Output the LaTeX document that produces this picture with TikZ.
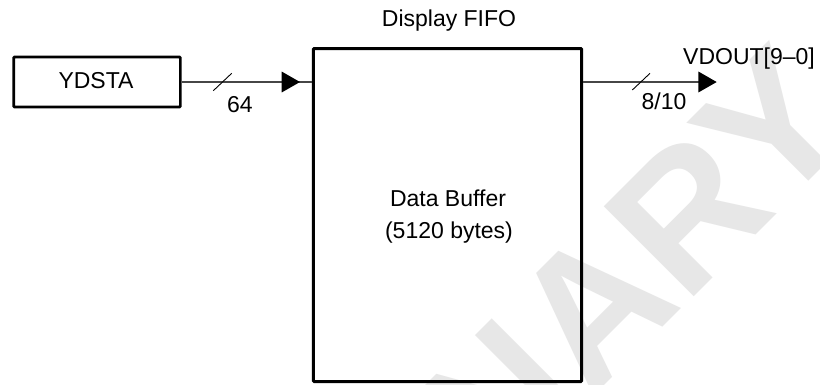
\documentclass[tikz,border=0pt]{standalone}
\usepackage{fontspec}
\setmainfont{Liberation Sans}
\usetikzlibrary{arrows.meta}
\definecolor{wmgray}{RGB}{231,231,231}
\definecolor{wirec}{RGB}{70,70,70}
\begin{document}
\begin{tikzpicture}[x=1pt,y=-1pt,
  lbl/.style={font=\fontsize{23}{28}\selectfont, inner sep=0pt, anchor=base},
  blk/.style={draw=black, line width=2.7pt, inner sep=0pt, rounded corners=1pt},
  wire/.style={draw=wirec, line width=1.3pt},
  tipped/.style={-{Triangle[length=18.3pt,width=20.6pt,black]}},
  tick/.style={draw=black, line width=0.9pt},
  wmark/.style={font=\bfseries\fontsize{185}{185}\selectfont, text=wmgray, rotate=45, anchor=base west, inner sep=0pt}]
\useasboundingbox (0,0) rectangle (820,384);
\fill[white] (0,0) rectangle (820,384);
\begin{scope}
  \clip (0,0) rectangle (820,384);
  \node[wmark] (wm) at (-34.3,1025) {PRELIMINARY};
\end{scope}
% blocks
\node[blk, minimum width=166.7pt, minimum height=50pt] (ydsta) at (97,82) {};
\node[lbl] (ydstat) at (96,88.3) {YDSTA};
\node[blk, line width=3pt, minimum width=268.4pt, minimum height=333pt] (fifo) at (447.5,215) {};
\node[lbl] (title) at (449,26.7) {Display FIFO};
\node[lbl] (buf1) at (448,206.7) {Data Buffer};
\node[lbl] (buf2) at (449,238.3) {(5120 bytes)};
% input bus
\coordinate (intip) at (300,82);
\draw[wire] (ydsta.east) -- (fifo.west |- ydsta.east);
\draw[wire, tipped] (ydsta.east) -- (intip);
\coordinate (t1a) at (213.3,90.7);
\coordinate (t1b) at (231.7,73.3);
\draw[tick] (t1a) -- (t1b);
\node[lbl] (w64) at (240,112.7) {64};
% output bus
\coordinate (outtip) at (716.7,82);
\draw[wire, tipped] (fifo.east |- outtip) -- (outtip);
\coordinate (t2a) at (632.3,90);
\coordinate (t2b) at (650,73.3);
\draw[tick] (t2a) -- (t2b);
\node[lbl] (w810) at (664,109) {8/10};
\node[lbl] (vdout) at (749,64.5) {VDOUT[9–0]};
\end{tikzpicture}
\end{document}
